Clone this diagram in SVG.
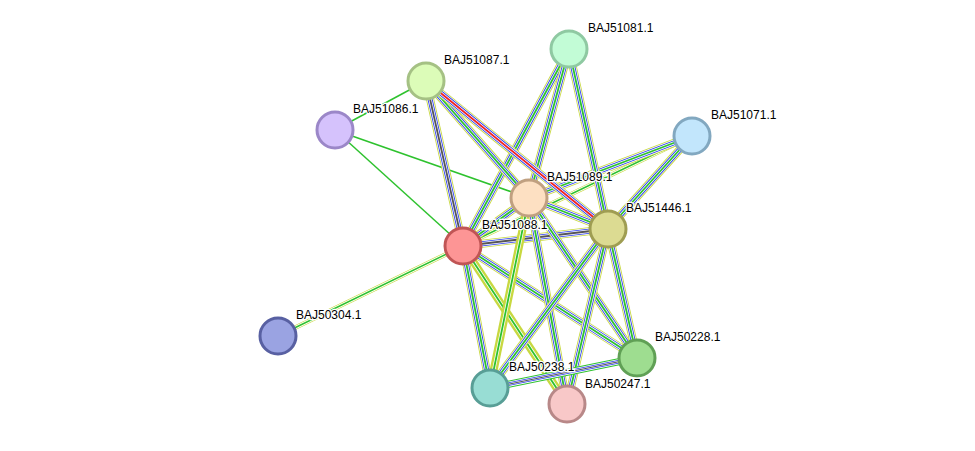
<svg xmlns="http://www.w3.org/2000/svg" xmlns:xlink="http://www.w3.org/1999/xlink" width="975" height="451" viewBox="0 0 975 451">
<style>
.y{stroke:#c8d840;stroke-width:8;fill:none}
.w1{stroke:#fff;stroke-width:6.3;fill:none}
.b{stroke:#2b3cf0;stroke-width:5;fill:none}
.w2{stroke:#fff;stroke-width:3.3;fill:none}
.g{stroke:#2ec22e;stroke-width:1.8;fill:none}
.gs{stroke:#2ec22e;stroke-width:1.5;fill:none}
.ys{stroke:#c8d840;stroke-width:4.5;fill:none}
.k{stroke:#555;stroke-width:1.8;fill:none}
.r{stroke:#f02020;stroke-width:1.8;fill:none}
.n{stroke-width:3}
text{font-family:"Liberation Sans",Arial,sans-serif;font-size:12px;fill:#000;paint-order:stroke;stroke:#fff;stroke-width:2.5px}
</style>
<rect width="975" height="451" fill="#fff"/>
<g id="connectors">
<!-- simple green -->
<line class="gs" x1="426" y1="81" x2="335" y2="130"/>
<line class="gs" x1="335" y1="130" x2="463" y2="246"/>
<line class="gs" x1="335" y1="130" x2="529" y2="198"/>
<!-- green+yellow -->
<line class="ys" x1="463" y1="246" x2="278" y2="336"/><line class="w2" x1="463" y1="246" x2="278" y2="336"/><line class="gs" x1="463" y1="246" x2="278" y2="336"/>
<line class="ys" x1="463" y1="246" x2="692" y2="136"/><line class="w2" x1="463" y1="246" x2="692" y2="136"/><line class="gs" x1="463" y1="246" x2="692" y2="136"/>
<!-- multi edges -->
<g id="m1"><line class="y" x1="463" y1="246" x2="426" y2="81"/><line class="w1" x1="463" y1="246" x2="426" y2="81"/><line class="b" x1="463" y1="246" x2="426" y2="81"/><line class="w2" x1="463" y1="246" x2="426" y2="81"/><line class="k" x1="463" y1="246" x2="426" y2="81"/></g>
<g><line class="y" x1="463" y1="246" x2="569" y2="49"/><line class="w1" x1="463" y1="246" x2="569" y2="49"/><line class="b" x1="463" y1="246" x2="569" y2="49"/><line class="w2" x1="463" y1="246" x2="569" y2="49"/><line class="g" x1="463" y1="246" x2="569" y2="49"/></g>
<g><line class="y" x1="463" y1="246" x2="529" y2="198"/><line class="w1" x1="463" y1="246" x2="529" y2="198"/><line class="b" x1="463" y1="246" x2="529" y2="198"/><line class="w2" x1="463" y1="246" x2="529" y2="198"/><line class="g" x1="463" y1="246" x2="529" y2="198"/></g>
<g><line class="y" x1="463" y1="246" x2="608" y2="229"/><line class="w1" x1="463" y1="246" x2="608" y2="229"/><line class="b" x1="463" y1="246" x2="608" y2="229"/><line class="w2" x1="463" y1="246" x2="608" y2="229"/><line class="k" x1="463" y1="246" x2="608" y2="229"/></g>
<g><line class="y" x1="463" y1="246" x2="490" y2="388"/><line class="w1" x1="463" y1="246" x2="490" y2="388"/><line class="b" x1="463" y1="246" x2="490" y2="388"/><line class="w2" x1="463" y1="246" x2="490" y2="388"/><line class="g" x1="463" y1="246" x2="490" y2="388"/></g>
<g><line class="y" x1="463" y1="246" x2="567" y2="404"/><line class="w2" x1="463" y1="246" x2="567" y2="404"/><line class="g" x1="463" y1="246" x2="567" y2="404"/></g>
<g><line class="y" x1="463" y1="246" x2="637" y2="358"/><line class="w1" x1="463" y1="246" x2="637" y2="358"/><line class="b" x1="463" y1="246" x2="637" y2="358"/><line class="w2" x1="463" y1="246" x2="637" y2="358"/><line class="g" x1="463" y1="246" x2="637" y2="358"/></g>
<g><line class="y" x1="529" y1="198" x2="426" y2="81"/><line class="w1" x1="529" y1="198" x2="426" y2="81"/><line class="b" x1="529" y1="198" x2="426" y2="81"/><line class="w2" x1="529" y1="198" x2="426" y2="81"/><line class="g" x1="529" y1="198" x2="426" y2="81"/></g>
<g><line class="y" x1="529" y1="198" x2="569" y2="49"/><line class="w1" x1="529" y1="198" x2="569" y2="49"/><line class="b" x1="529" y1="198" x2="569" y2="49"/><line class="w2" x1="529" y1="198" x2="569" y2="49"/><line class="g" x1="529" y1="198" x2="569" y2="49"/></g>
<g><line class="y" x1="529" y1="198" x2="692" y2="136"/><line class="w1" x1="529" y1="198" x2="692" y2="136"/><line class="b" x1="529" y1="198" x2="692" y2="136"/><line class="w2" x1="529" y1="198" x2="692" y2="136"/><line class="g" x1="529" y1="198" x2="692" y2="136"/></g>
<g><line class="y" x1="529" y1="198" x2="608" y2="229"/><line class="w1" x1="529" y1="198" x2="608" y2="229"/><line class="b" x1="529" y1="198" x2="608" y2="229"/><line class="w2" x1="529" y1="198" x2="608" y2="229"/><line class="g" x1="529" y1="198" x2="608" y2="229"/></g>
<g><line class="y" x1="529" y1="198" x2="490" y2="388"/><line class="w2" x1="529" y1="198" x2="490" y2="388"/><line class="g" x1="529" y1="198" x2="490" y2="388"/></g>
<g><line class="y" x1="529" y1="198" x2="567" y2="404"/><line class="w1" x1="529" y1="198" x2="567" y2="404"/><line class="b" x1="529" y1="198" x2="567" y2="404"/><line class="w2" x1="529" y1="198" x2="567" y2="404"/><line class="g" x1="529" y1="198" x2="567" y2="404"/></g>
<g><line class="y" x1="529" y1="198" x2="637" y2="358"/><line class="w1" x1="529" y1="198" x2="637" y2="358"/><line class="b" x1="529" y1="198" x2="637" y2="358"/><line class="w2" x1="529" y1="198" x2="637" y2="358"/><line class="g" x1="529" y1="198" x2="637" y2="358"/></g>
<g><line class="y" x1="608" y1="229" x2="426" y2="81"/><line class="w1" x1="608" y1="229" x2="426" y2="81"/><line class="b" x1="608" y1="229" x2="426" y2="81"/><line class="w2" x1="608" y1="229" x2="426" y2="81"/><line class="r" x1="608" y1="229" x2="426" y2="81"/></g>
<g><line class="y" x1="608" y1="229" x2="569" y2="49"/><line class="w1" x1="608" y1="229" x2="569" y2="49"/><line class="b" x1="608" y1="229" x2="569" y2="49"/><line class="w2" x1="608" y1="229" x2="569" y2="49"/><line class="g" x1="608" y1="229" x2="569" y2="49"/></g>
<g><line class="y" x1="608" y1="229" x2="692" y2="136"/><line class="w1" x1="608" y1="229" x2="692" y2="136"/><line class="b" x1="608" y1="229" x2="692" y2="136"/><line class="w2" x1="608" y1="229" x2="692" y2="136"/><line class="g" x1="608" y1="229" x2="692" y2="136"/></g>
<g><line class="y" x1="608" y1="229" x2="637" y2="358"/><line class="w1" x1="608" y1="229" x2="637" y2="358"/><line class="b" x1="608" y1="229" x2="637" y2="358"/><line class="w2" x1="608" y1="229" x2="637" y2="358"/><line class="g" x1="608" y1="229" x2="637" y2="358"/></g>
<g><line class="y" x1="608" y1="229" x2="490" y2="388"/><line class="w1" x1="608" y1="229" x2="490" y2="388"/><line class="b" x1="608" y1="229" x2="490" y2="388"/><line class="w2" x1="608" y1="229" x2="490" y2="388"/><line class="g" x1="608" y1="229" x2="490" y2="388"/></g>
<g><line class="y" x1="608" y1="229" x2="567" y2="404"/><line class="w1" x1="608" y1="229" x2="567" y2="404"/><line class="b" x1="608" y1="229" x2="567" y2="404"/><line class="w2" x1="608" y1="229" x2="567" y2="404"/><line class="g" x1="608" y1="229" x2="567" y2="404"/></g>
<g><line class="g" x1="490" y1="388" x2="637" y2="358" stroke-width="7" style="stroke-width:7"/><line class="w1" x1="490" y1="388" x2="637" y2="358" style="stroke-width:5"/><line class="b" x1="490" y1="388" x2="637" y2="358" style="stroke-width:3.5"/><line class="w2" x1="490" y1="388" x2="637" y2="358" style="stroke-width:2"/><line class="k" x1="490" y1="388" x2="637" y2="358" style="stroke-width:1"/></g>
</g>
<g id="BAJ51081.1"><circle class="n" cx="569" cy="49" r="18" fill="#c2fcd6" stroke="#8fc9a2"/><text x="588" y="32">BAJ51081.1</text></g>
<g id="BAJ51087.1"><circle class="n" cx="426" cy="81" r="18" fill="#dcfcb8" stroke="#a5c184"/><text x="444" y="64">BAJ51087.1</text></g>
<g id="BAJ51086.1"><circle class="n" cx="335" cy="130" r="18" fill="#d5c2fc" stroke="#9b87c8"/><text x="353" y="113">BAJ51086.1</text></g>
<g id="BAJ51071.1"><circle class="n" cx="692" cy="136" r="18" fill="#c2e6fc" stroke="#82a8c0"/><text x="711" y="119">BAJ51071.1</text></g>
<g id="BAJ51089.1"><circle class="n" cx="529" cy="198" r="18" fill="#fde0c2" stroke="#c0a080"/><text x="547" y="181">BAJ51089.1</text></g>
<g id="BAJ51446.1"><circle class="n" cx="608" cy="229" r="18" fill="#dcdb92" stroke="#9f9d52"/><text x="626" y="212">BAJ51446.1</text></g>
<g id="BAJ51088.1"><circle class="n" cx="463" cy="246" r="18" fill="#fd9595" stroke="#c05555"/><text x="482" y="229">BAJ51088.1</text></g>
<g id="BAJ50304.1"><circle class="n" cx="278" cy="336" r="18" fill="#9aa3e2" stroke="#5860a2"/><text x="296" y="319">BAJ50304.1</text></g>
<g id="BAJ50228.1"><circle class="n" cx="637" cy="358" r="18" fill="#9edd90" stroke="#60a055"/><text x="655" y="341">BAJ50228.1</text></g>
<g id="BAJ50238.1"><circle class="n" cx="490" cy="388" r="18" fill="#98ddd4" stroke="#589e96"/><text x="509" y="371">BAJ50238.1</text></g>
<g id="BAJ50247.1"><circle class="n" cx="567" cy="404" r="18" fill="#f8c8c8" stroke="#b88888"/><text x="585" y="388">BAJ50247.1</text></g>
</svg>
